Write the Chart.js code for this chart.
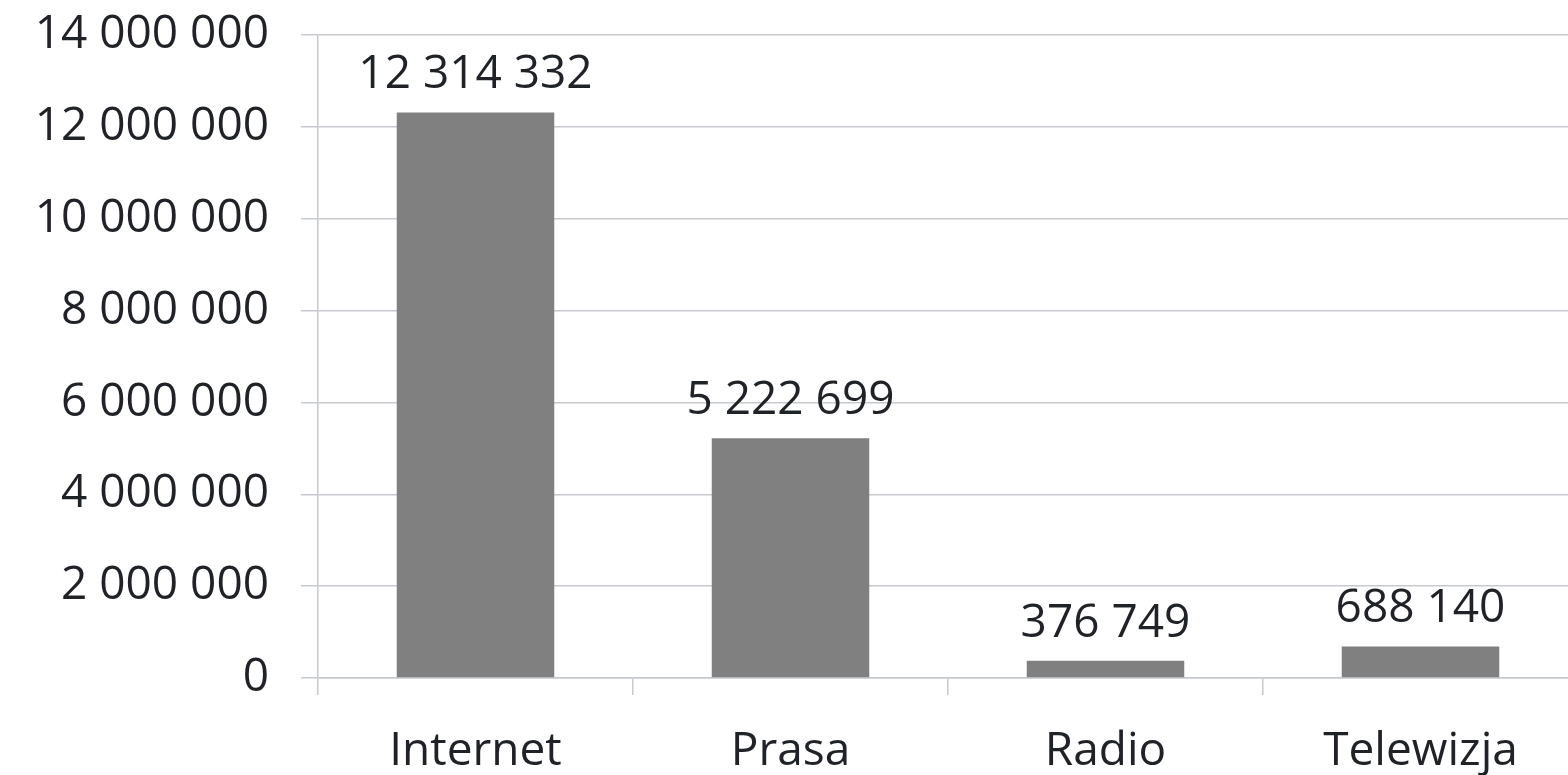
<!DOCTYPE html>
<html lang="pl">
<head>
  <meta charset="UTF-8" />
  <title>Media</title>
  <script src="https://cdn.jsdelivr.net/npm/chart.js"></script>
  <style>
    html, body {
      margin: 0;
      padding: 0;
      background: #ffffff;
      overflow: hidden;
    }
    .wrap {
      width: 1580px;
      height: 775px;
    }
  </style>
</head>
<body>
  <div class="wrap"><canvas id="mediaChart"></canvas></div>

  <script>
    const categories = ['Internet', 'Prasa', 'Radio', 'Telewizja'];
    const values = [12314332, 5222699, 376749, 688140];
    const yMax = 14000000;
    const yStep = 2000000;

    const textColor = '#1f2226';
    const lineColor = '#c6cacf';
    const fontFamily = "'Open Sans', sans-serif";

    // 12314332 -> "12 314 332"
    function spaced(n) {
      return String(Math.round(n)).replace(/\B(?=(\d{3})+(?!\d))/g, ' ');
    }

    // value labels above each bar
    const barLabels = {
      id: 'barLabels',
      afterDatasetsDraw(chart) {
        const ctx = chart.ctx;
        const meta = chart.getDatasetMeta(0);
        ctx.save();
        ctx.fillStyle = textColor;
        ctx.font = '46px ' + fontFamily;
        ctx.textAlign = 'center';
        ctx.textBaseline = 'alphabetic';
        meta.data.forEach((bar, i) => {
          ctx.fillText(spaced(values[i]), bar.x, bar.y - 24);
        });
        ctx.restore();
      }
    };

    new Chart(document.getElementById('mediaChart'), {
      type: 'bar',
      data: {
        labels: categories,
        datasets: [{
          data: values,
          backgroundColor: '#808080',
          barPercentage: 0.5,
          categoryPercentage: 1
        }]
      },
      options: {
        responsive: true,
        maintainAspectRatio: false,
        animation: false,
        layout: { padding: { top: 35, right: 2, left: 0, bottom: 0 } },
        plugins: {
          legend: { display: false },
          tooltip: { enabled: false }
        },
        scales: {
          x: {
            grid: {
              offset: true,
              drawOnChartArea: false,
              drawTicks: true,
              tickLength: 17,
              color: lineColor,
              lineWidth: 1.5
            },
            border: { display: true, color: lineColor, width: 1.5 },
            ticks: {
              color: textColor,
              font: { family: fontFamily, size: 46 },
              padding: 29,
              maxRotation: 0
            },
            afterFit(scale) { scale.height = 97; }
          },
          y: {
            min: 0,
            max: yMax,
            grid: {
              drawTicks: true,
              tickLength: 17,
              color: lineColor,
              lineWidth: 1.5
            },
            border: { display: true, color: lineColor, width: 1.5 },
            ticks: {
              stepSize: yStep,
              color: textColor,
              font: { family: fontFamily, size: 46 },
              padding: 32,
              callback: v => spaced(v)
            },
            afterFit(scale) {
              scale.width = 318;
              scale.paddingTop = 0;
              scale.paddingBottom = 0;
            }
          }
        }
      },
      plugins: [barLabels]
    });
  </script>
</body>
</html>
